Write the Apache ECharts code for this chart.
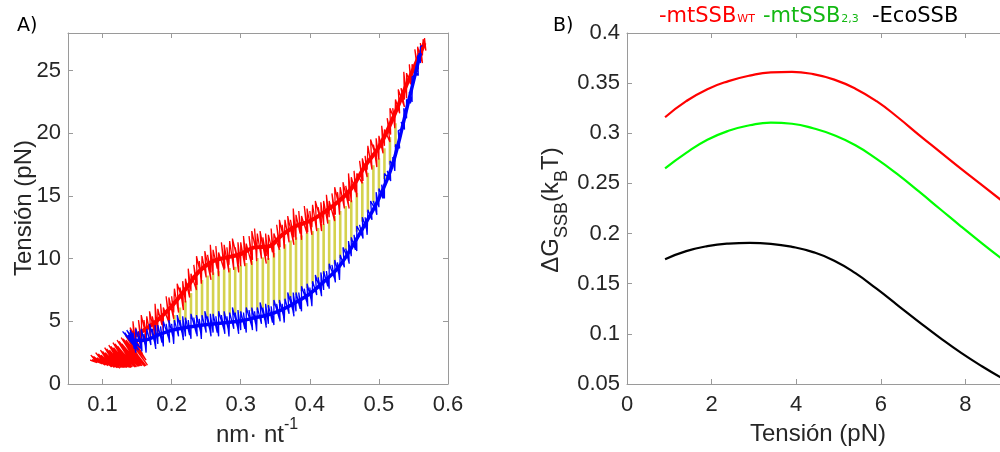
<!DOCTYPE html>
<html>
<head>
<meta charset="utf-8">
<script src="https://cdn.jsdelivr.net/npm/echarts@6/dist/echarts.min.js"></script>
<style>
html,body{margin:0;padding:0;background:#fff;}
#chart{width:1000px;height:452px;}
</style>
</head>
<body>
<div id="chart"></div>
<script>
// ---------- Panel A data (nm·nt^-1 vs Tensión) ----------
const redTrace = [
[0.163,1.45],[0.134,3.5],[0.159,1.5],[0.131,3.4],[0.155,1.45],[0.128,3.2],[0.151,1.4],[0.125,3.3],[0.147,1.35],[0.122,3.0],[0.143,1.35],[0.119,3.0],[0.139,1.3],[0.116,2.9],[0.135,1.3],[0.113,2.8],[0.131,1.3],[0.110,2.7],[0.127,1.3],[0.107,2.6],[0.123,1.3],[0.104,2.5],[0.119,1.35],[0.101,2.4],[0.115,1.4],[0.098,2.3],[0.111,1.45],[0.095,2.2],[0.107,1.5],[0.092,2.1],[0.103,1.55],[0.088,2.0],[0.098,1.65],[0.085,1.95],[0.093,1.75],[0.082,1.9],
[0.080,2.0],[0.092,1.7],[0.083,2.3],[0.099,1.6],[0.087,2.2],[0.104,1.5],[0.090,2.5],[0.108,1.45],[0.094,2.4],[0.113,1.35],[0.097,2.7],[0.117,1.3],[0.100,2.6],[0.121,1.3],[0.103,2.9],[0.125,1.25],[0.106,2.8],[0.129,1.3],[0.109,3.1],[0.133,1.3],[0.112,3.0],[0.137,1.35],[0.115,3.3],[0.141,1.3],[0.118,3.2],[0.145,1.4],[0.121,3.5],[0.149,1.35],[0.124,3.4],[0.153,1.4],[0.127,3.7],[0.157,1.45],[0.130,3.6],[0.161,1.4],[0.133,3.9],[0.165,1.5],[0.136,3.8],[0.163,1.9],[0.138,4.1],[0.158,2.4],[0.139,3.7],[0.154,2.9],
[0.140,4.5],[0.146,2.7],[0.144,5.0],[0.148,3.2],[0.148,4.5],[0.156,2.9],[0.152,5.1],[0.157,3.3],[0.156,5.5],[0.163,3.8],[0.160,5.1],[0.163,3.2],[0.164,5.4],[0.170,3.6],[0.168,5.8],[0.177,3.6],[0.172,5.4],[0.177,4.2],[0.176,6.4],[0.180,4.0],
[0.180,6.0],[0.186,4.7],[0.184,6.4],[0.188,4.2],[0.188,6.1],[0.196,4.9],[0.192,7.0],[0.197,5.0],[0.196,6.9],[0.203,5.2],[0.200,7.0],[0.203,5.7],[0.204,7.6],[0.210,5.7],[0.208,8.0],[0.217,6.5],[0.212,7.7],[0.217,5.9],[0.216,8.2],[0.220,6.5],
[0.220,8.4],[0.226,6.9],[0.224,9.2],[0.228,7.4],[0.228,8.8],[0.236,7.5],[0.232,9.5],[0.237,7.9],[0.236,10.2],[0.243,8.5],[0.240,9.8],[0.243,8.0],[0.244,10.2],[0.250,8.5],[0.248,10.6],[0.257,8.3],[0.252,10.3],[0.257,8.9],[0.256,11.1],[0.260,8.7],
[0.260,10.7],[0.266,9.2],[0.264,11.0],[0.268,8.6],[0.268,10.5],[0.276,9.1],[0.272,11.3],[0.277,9.2],[0.276,11.1],[0.283,8.9],[0.280,10.9],[0.283,9.5],[0.284,11.4],[0.290,9.1],[0.288,11.6],[0.297,9.5],[0.292,10.9],[0.297,8.9],[0.296,11.3],[0.300,9.4],
[0.300,11.3],[0.306,9.4],[0.304,11.8],[0.308,9.9],[0.308,11.2],[0.316,9.5],[0.312,11.8],[0.317,9.9],[0.316,12.2],[0.323,10.4],[0.320,12.4],[0.323,9.8],[0.324,12.0],[0.330,10.0],[0.328,12.2],[0.337,9.6],[0.332,11.7],[0.337,10.2],[0.336,12.0],[0.340,9.9],
[0.340,11.9],[0.346,10.5],[0.344,12.4],[0.348,10.1],[0.348,12.0],[0.356,10.7],[0.352,12.7],[0.357,10.9],[0.356,13.1],[0.363,11.4],[0.360,12.7],[0.363,10.8],[0.364,13.1],[0.370,11.3],[0.368,13.4],[0.377,11.1],[0.372,13.1],[0.377,11.7],[0.376,14.0],[0.380,11.5],
[0.380,13.5],[0.386,12.0],[0.384,13.8],[0.388,11.5],[0.388,13.4],[0.396,12.0],[0.392,14.2],[0.397,12.1],[0.396,14.0],[0.403,11.9],[0.400,13.8],[0.403,12.5],[0.404,14.3],[0.410,12.2],[0.408,14.6],[0.417,12.8],[0.412,14.1],[0.417,12.2],[0.416,14.5],[0.420,12.7],
[0.420,14.6],[0.426,12.8],[0.424,15.1],[0.428,13.3],[0.428,14.6],[0.436,13.0],[0.432,15.2],[0.437,13.5],[0.436,15.7],[0.443,14.0],[0.440,15.3],[0.443,13.5],[0.444,15.7],[0.450,14.0],[0.448,16.1],[0.457,14.0],[0.452,15.8],[0.457,14.6],[0.456,16.8],[0.460,14.5],
[0.460,16.5],[0.466,15.3],[0.464,17.0],[0.468,14.9],[0.468,16.8],[0.476,16.0],[0.472,17.8],[0.477,16.2],[0.476,18.0],[0.483,16.5],[0.480,18.2],[0.483,17.1],[0.484,19.0],[0.490,17.1],[0.488,19.5],[0.497,17.9],[0.492,19.1],[0.497,17.3],[0.496,19.6],[0.500,17.9],
[0.500,19.8],[0.506,18.4],[0.504,20.6],[0.508,19.0],[0.508,20.3],[0.516,19.3],[0.512,21.2],[0.517,19.9],[0.516,22.0],[0.523,21.0],[0.520,22.0],[0.523,20.4],[0.524,22.7],[0.530,21.6],[0.528,23.5],[0.537,22.1],[0.532,23.6],[0.537,22.7],[0.536,24.9],[0.540,22.8],
[0.540,24.8],[0.546,23.9],[0.544,25.5],[0.548,23.6],[0.548,25.5],[0.556,24.9],[0.552,26.7],[0.557,25.1],[0.556,26.9],[0.563,25.6],[0.560,27.2],[0.563,26.2],[0.564,27.5],[0.568,26.6],[0.566,27.6]
];
const redCore = [[0.14,3.6],[0.16,4.3],[0.18,5.1],[0.20,6.2],[0.22,7.55],[0.24,9.0],[0.26,9.8],[0.28,10.1],[0.30,10.37],[0.32,10.9],[0.34,10.97],[0.36,11.9],[0.38,12.6],[0.40,13.0],[0.42,13.67],[0.44,14.5],[0.46,15.57],[0.48,17.4],[0.50,18.9],[0.52,21.17],[0.54,23.87],[0.56,26.4],[0.566,27.2]];
const blueTrace = [
[0.129,4.2],[0.146,3.0],[0.132,4.1],[0.152,2.7],[0.135,4.3],[0.156,2.8],[0.137,3.9],[0.150,3.0],
[0.140,4.3],[0.146,2.8],[0.144,4.1],[0.148,2.5],[0.148,4.4],[0.156,2.9],[0.152,4.2],[0.157,2.6],[0.156,4.4],[0.163,2.8],[0.160,4.0],[0.163,2.5],[0.164,4.4],[0.170,3.1],[0.168,4.8],[0.177,3.0],[0.172,4.4],[0.177,2.8],[0.176,4.7],[0.180,3.2],
[0.180,4.7],[0.186,3.3],[0.184,4.6],[0.188,3.0],[0.188,5.0],[0.196,3.6],[0.192,4.8],[0.197,3.3],[0.196,5.1],[0.203,3.5],[0.200,4.8],[0.203,3.2],[0.204,5.1],[0.210,3.8],[0.208,5.5],[0.217,3.7],[0.212,5.1],[0.217,3.5],[0.216,5.4],[0.220,3.8],
[0.220,5.3],[0.226,3.9],[0.224,5.1],[0.228,3.6],[0.228,5.6],[0.236,4.0],[0.232,5.3],[0.237,3.8],[0.236,5.5],[0.243,3.9],[0.240,5.2],[0.243,3.6],[0.244,5.5],[0.250,4.1],[0.248,5.8],[0.257,4.0],[0.252,5.4],[0.257,3.8],[0.256,5.6],[0.260,4.1],
[0.260,5.6],[0.266,4.1],[0.264,5.4],[0.268,3.8],[0.268,5.8],[0.276,4.3],[0.272,5.5],[0.277,4.0],[0.276,5.8],[0.283,4.1],[0.280,5.4],[0.283,3.8],[0.284,5.7],[0.290,4.4],[0.288,6.1],[0.297,4.2],[0.292,5.7],[0.297,4.0],[0.296,5.9],[0.300,4.3],
[0.300,5.8],[0.306,4.4],[0.304,5.7],[0.308,4.1],[0.308,6.1],[0.316,4.6],[0.312,5.9],[0.317,4.3],[0.316,6.1],[0.323,4.5],[0.320,5.8],[0.323,4.2],[0.324,6.1],[0.330,4.8],[0.328,6.5],[0.337,4.7],[0.332,6.1],[0.337,4.5],[0.336,6.4],[0.340,4.8],
[0.340,6.3],[0.346,4.9],[0.344,6.2],[0.348,4.7],[0.348,6.7],[0.356,5.2],[0.352,6.4],[0.357,5.0],[0.356,6.7],[0.363,5.2],[0.360,6.4],[0.363,4.9],[0.364,6.8],[0.370,5.6],[0.368,7.3],[0.377,5.6],[0.372,7.0],[0.377,5.4],[0.376,7.3],[0.380,5.8],
[0.380,7.3],[0.386,6.0],[0.384,7.3],[0.388,5.8],[0.388,7.8],[0.396,6.5],[0.392,7.6],[0.397,6.2],[0.396,8.0],[0.403,6.5],[0.400,7.7],[0.403,6.2],[0.404,8.2],[0.410,7.1],[0.408,8.7],[0.417,7.2],[0.412,8.5],[0.417,7.0],[0.416,8.9],[0.420,7.5],
[0.420,9.0],[0.426,7.8],[0.424,9.0],[0.428,7.6],[0.428,9.6],[0.436,8.4],[0.432,9.5],[0.437,8.1],[0.436,9.9],[0.443,8.6],[0.440,9.7],[0.443,8.3],[0.444,10.3],[0.450,9.3],[0.448,10.9],[0.457,9.8],[0.452,10.8],[0.457,9.6],[0.456,11.4],[0.460,10.2],
[0.460,11.7],[0.466,10.7],[0.464,11.9],[0.468,10.6],[0.468,12.6],[0.476,11.8],[0.472,12.7],[0.477,11.6],[0.476,13.3],[0.483,12.2],[0.480,13.3],[0.483,11.9],[0.484,13.9],[0.490,13.1],[0.488,14.6],[0.497,13.7],[0.492,14.6],[0.497,13.5],[0.496,15.3],[0.500,14.1],
[0.500,15.6],[0.506,14.8],[0.504,15.9],[0.508,14.8],[0.508,16.8],[0.516,16.3],[0.512,17.0],[0.517,16.2],[0.516,17.8],[0.523,17.3],[0.520,18.1],[0.523,17.0],[0.524,19.1],[0.530,18.8],[0.528,20.2],[0.537,20.5],[0.532,20.9],[0.537,20.3],[0.536,22.0],[0.540,21.2],
[0.540,22.7],[0.546,22.4],[0.544,23.3],[0.548,22.5],[0.548,24.5],[0.556,24.7],[0.552,25.0],[0.557,24.6],[0.556,26.2],[0.560,25.6],[0.560,26.9],[0.563,27.0]
];
const blueCore = [[0.14,3.5],[0.16,3.5],[0.18,3.9],[0.20,4.28],[0.22,4.5],[0.24,4.67],[0.26,4.78],[0.28,4.9],[0.30,5.03],[0.32,5.28],[0.34,5.52],[0.36,5.93],[0.38,6.52],[0.40,7.2],[0.42,8.15],[0.44,9.2],[0.46,10.85],[0.48,12.75],[0.50,14.8],[0.52,17.55],[0.54,21.9],[0.56,26.4]];
const yellowX = [0.204,0.212,0.220,0.228,0.236,0.244,0.252,0.260,0.268,0.276,0.284,0.292,0.300,0.308,0.316,0.324,0.332,0.340,0.348,0.356,0.364,0.372,0.380,0.388,0.396,0.404,0.412,0.420,0.428,0.436,0.444,0.452,0.460,0.468,0.476,0.484,0.492,0.500,0.508,0.516,0.524];
const yellowLow = [4.9,5.0,5.1,5.2,5.25,5.3,5.3,5.4,5.4,5.45,5.55,5.6,5.65,5.7,5.8,5.9,6.05,6.1,6.25,6.45,6.65,6.9,7.1,7.4,7.65,8.0,8.4,8.75,9.15,9.55,10.05,10.7,11.45,12.15,12.95,13.7,14.5,15.4,16.35,17.5,18.9];
const yellowHigh = [5.5,6.1,6.65,7.25,7.9,8.3,8.65,8.9,9.0,9.15,9.25,9.35,9.45,9.65,9.85,10.05,10.1,10.05,10.45,10.8,11.15,11.45,11.7,11.85,12.05,12.2,12.45,12.75,13.1,13.4,13.8,14.2,14.65,15.25,16.1,16.85,17.45,18.0,18.8,19.7,20.8];
const xTicksA = [0.1,0.2,0.3,0.4,0.5,0.6];
const yTicksA = [0,5,10,15,20,25];

// ---------- Panel B data (Tensión vs ΔG_SSB) ----------
const tension = [0.9,1.4,1.9,2.4,2.9,3.4,3.9,4.4,4.9,5.4,5.9,6.4,6.9,7.4,7.9,8.4,8.9];
const mtSSBwt = [0.316,0.332,0.344,0.352,0.3575,0.3607,0.3612,0.3590,0.3535,0.3445,0.3320,0.3160,0.2985,0.2815,0.2645,0.2480,0.2315];
const mtSSB23 = [0.265,0.2805,0.2935,0.3025,0.3080,0.3107,0.3095,0.3050,0.2980,0.2880,0.2745,0.2590,0.2420,0.2245,0.2070,0.1900,0.1735];
const ecoSSB  = [0.1745,0.1825,0.1875,0.1900,0.1907,0.1898,0.1868,0.1815,0.1730,0.1605,0.1450,0.1285,0.1120,0.0960,0.0810,0.0675,0.0550];
const xTicksB = [0,2,4,6,8,10];
const yTicksB = [0.05,0.1,0.15,0.2,0.25,0.3,0.35,0.4];

const legendItems = [
  {main:'-mtSSB', sub:'WT', color:'#ff0000'},
  {main:'-mtSSB', sub:'2,3', color:'#14b814'},
  {main:'-EcoSSB', sub:'', color:'#000000'}
];

// ---------- Chart ----------
const chart = echarts.init(document.getElementById('chart'), null, {renderer:'canvas'});
const AX = '#9a9a9a';
const TXT = '#262626';
const FONT = 'Liberation Sans';

function xAx(grid, min, max, ticks, pos, labels){
  return {
    type:'value', gridIndex:grid, position:pos, min:min, max:max,
    axisLine:{show:true, onZero:false, lineStyle:{color:AX, width:1}},
    axisTick:{show:true, inside:true, length:5, customValues:ticks, lineStyle:{color:AX}},
    axisLabel:{show:labels, customValues:ticks, color:TXT, fontFamily:FONT, fontSize:22, margin:10},
    splitLine:{show:false}
  };
}
function yAx(grid, min, max, ticks, pos, labels){
  return {
    type:'value', gridIndex:grid, position:pos, min:min, max:max,
    axisLine:{show:true, onZero:false, lineStyle:{color:AX, width:1}},
    axisTick:{show:true, inside:true, length:5, customValues:ticks, lineStyle:{color:AX}},
    axisLabel:{show:labels, customValues:ticks, color:TXT, fontFamily:FONT, fontSize:22, margin:7},
    splitLine:{show:false}
  };
}

function yellowItem(params, api){
  const p1 = api.coord([api.value(0), api.value(1)]);
  const p2 = api.coord([api.value(0), api.value(2)]);
  return {type:'line', shape:{x1:p1[0], y1:p1[1], x2:p2[0], y2:p2[1]},
          style:{stroke:'#d5d24e', lineWidth:2.6}};
}

const legendGraphics = [];
const legendX = [659, 763, 872];
legendItems.forEach((it, i) => {
  legendGraphics.push({
    type:'text', x:legendX[i], y:15,
    style:{
      text:'{m|' + it.main + '}' + (it.sub ? '{s|' + it.sub + '}' : ''),
      align:'left', verticalAlign:'middle',
      rich:{
        m:{fontSize:21, fontFamily:'DejaVu Sans', fill:it.color, lineHeight:24, verticalAlign:'bottom'},
        s:{fontSize:11, fontFamily:'DejaVu Sans', fill:it.color, lineHeight:24, verticalAlign:'bottom', padding:[0,0,2,1]}
      }
    }
  });
});

const option = {
  animation:false,
  backgroundColor:'#ffffff',
  grid:[
    {left:68, top:33, width:380, height:351, show:false, outerBoundsMode:'none', containLabel:false},
    {left:627, top:33, width:423, height:351, show:false, outerBoundsMode:'none', containLabel:false}
  ],
  xAxis:[
    xAx(0, 0.05, 0.6, xTicksA, 'bottom', true),
    xAx(0, 0.05, 0.6, xTicksA, 'top', false),
    xAx(1, 0, 10, xTicksB, 'bottom', true),
    xAx(1, 0, 10, xTicksB, 'top', false)
  ],
  yAxis:[
    yAx(0, 0, 28, yTicksA, 'left', true),
    yAx(0, 0, 28, yTicksA, 'right', false),
    yAx(1, 0.05, 0.4, yTicksB, 'left', true),
    yAx(1, 0.05, 0.4, yTicksB, 'right', false)
  ],
  series:[
    {type:'custom', name:'area', xAxisIndex:0, yAxisIndex:0,
     data: yellowX.map((x,i) => [x, yellowLow[i], yellowHigh[i]]),
     encode:{x:0, y:[1,2]}, renderItem: yellowItem, z:1},
    {type:'line', name:'redCore', xAxisIndex:0, yAxisIndex:0, data:redCore, smooth:0.4,
     symbol:'none', lineStyle:{color:'#ff0000', width:4}, z:2},
    {type:'line', name:'red', xAxisIndex:0, yAxisIndex:0, data:redTrace,
     symbol:'none', lineStyle:{color:'#ff0000', width:1.3}, z:2},
    {type:'line', name:'blueCore', xAxisIndex:0, yAxisIndex:0, data:blueCore, smooth:0.4,
     symbol:'none', lineStyle:{color:'#0000ff', width:3.5}, z:3},
    {type:'line', name:'blue', xAxisIndex:0, yAxisIndex:0, data:blueTrace,
     symbol:'none', lineStyle:{color:'#0000ff', width:1.3}, z:3},
    {type:'line', name:'mtSSBwt', xAxisIndex:2, yAxisIndex:2,
     data: tension.map((x,i)=>[x, mtSSBwt[i]]), smooth:0.5,
     symbol:'none', lineStyle:{color:'#ff0000', width:2.2}},
    {type:'line', name:'mtSSB23', xAxisIndex:2, yAxisIndex:2,
     data: tension.map((x,i)=>[x, mtSSB23[i]]), smooth:0.5,
     symbol:'none', lineStyle:{color:'#00ff00', width:2.2}},
    {type:'line', name:'EcoSSB', xAxisIndex:2, yAxisIndex:2,
     data: tension.map((x,i)=>[x, ecoSSB[i]]), smooth:0.5,
     symbol:'none', lineStyle:{color:'#000000', width:2.2}}
  ],
  graphic:[
    {type:'text', x:17, y:26, style:{text:'A)', fontFamily:'DejaVu Sans', fontSize:19, fill:'#000', align:'left', verticalAlign:'middle'}},
    {type:'text', x:553, y:26, style:{text:'B)', fontFamily:'DejaVu Sans', fontSize:19, fill:'#000', align:'left', verticalAlign:'middle'}},
    {type:'text', x:24, y:208, rotation:Math.PI/2,
     style:{text:'Tensión (pN)', fontFamily:FONT, fontSize:24, fill:TXT, align:'center', verticalAlign:'middle'}},
    {type:'text', x:257, y:432,
     style:{text:'{m|nm· nt}{p|-1}', align:'center', verticalAlign:'middle',
            rich:{m:{fontFamily:FONT, fontSize:24, fill:TXT, lineHeight:30, verticalAlign:'bottom'},
                  p:{fontFamily:FONT, fontSize:16, fill:TXT, lineHeight:30, verticalAlign:'top'}}}},
    {type:'text', x:818, y:434,
     style:{text:'Tensión (pN)', fontFamily:FONT, fontSize:24, fill:TXT, align:'center', verticalAlign:'middle'}},
    {type:'text', x:555, y:210, rotation:Math.PI/2,
     style:{text:'{m|ΔG}{s|SSB}{m|(k}{s|B}{m|T)}', align:'center', verticalAlign:'middle',
            rich:{m:{fontFamily:FONT, fontSize:24, fill:TXT, lineHeight:32, verticalAlign:'top'},
                  s:{fontFamily:FONT, fontSize:18, fill:TXT, lineHeight:32, verticalAlign:'bottom'}}}}
  ].concat(legendGraphics)
};
chart.setOption(option);
</script>
</body>
</html>
